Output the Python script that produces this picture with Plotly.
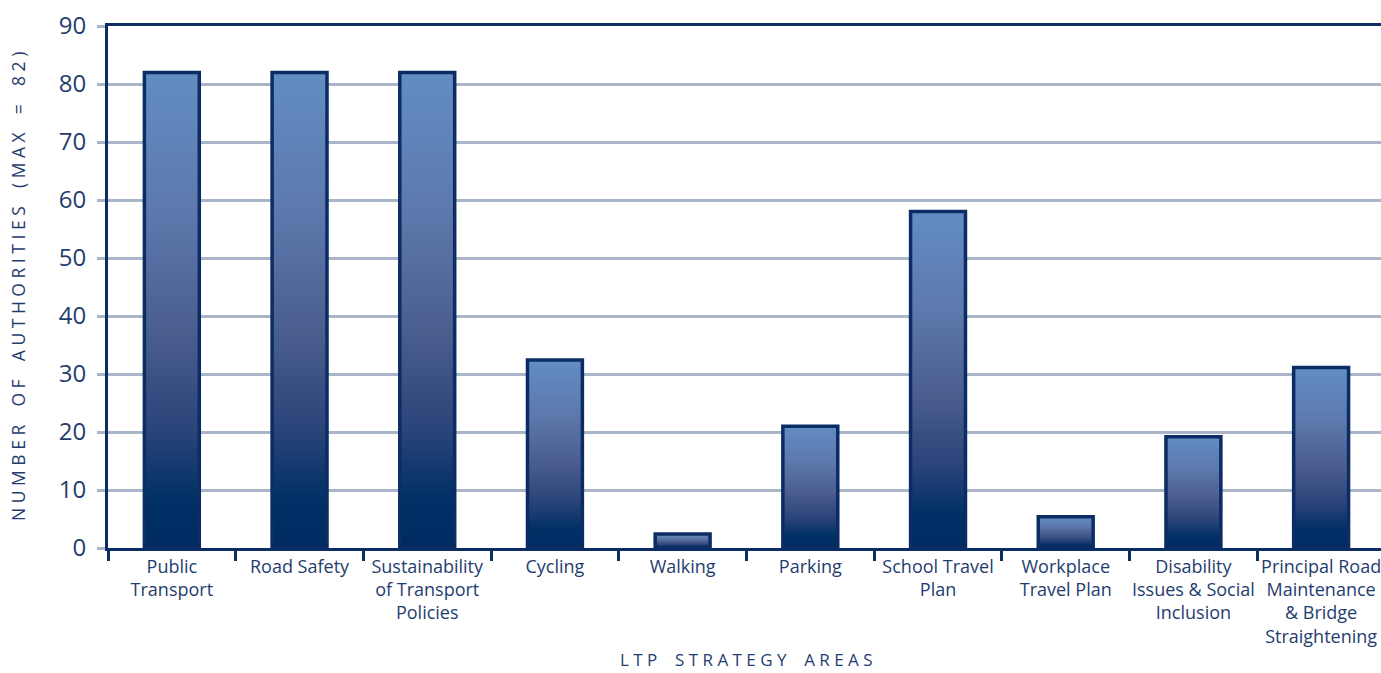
import plotly.graph_objects as go

categories = ["Public<br>Transport", "Road Safety", "Sustainability<br>of Transport<br>Policies",
              "Cycling", "Walking", "Parking", "School Travel<br>Plan", "Workplace<br>Travel Plan",
              "Disability<br>Issues & Social<br>Inclusion",
              "Principal Road<br>Maintenance<br>& Bridge<br>Straightening"]
values = [82, 82, 82, 32.4, 2.4, 21, 58, 5.4, 19.2, 31.1]
y_ticks = [0, 10, 20, 30, 40, 50, 60, 70, 80, 90]

NAVY = "#0b2d63"
TEXT = "#1f3d6e"
GRID = "#a9b6c9"
HALF = 0.215

grad = [[0.0, "#002b62"], [0.1, "#003066"], [0.25, "#2b4479"], [0.45, "#4a5d8f"],
        [0.7, "#5d78ac"], [1.0, "#628dc4"]]

def spaced(s, sep, wsep):
    words = s.split(" ")
    return wsep.join(sep.join(list(w)) for w in words)

fig = go.Figure()
for i, v in enumerate(values):
    fig.add_trace(go.Scatter(
        x=[i - HALF, i + HALF, i + HALF, i - HALF, i - HALF],
        y=[0, 0, v, v, 0],
        mode="lines", fill="toself",
        fillgradient=dict(type="vertical", colorscale=grad, start=0, stop=v),
        line=dict(color=NAVY, width=3.5),
        hoverinfo="skip", showlegend=False,
    ))

fig.update_layout(
    width=1381, height=673,
    margin=dict(l=108, r=0, t=26, b=125),
    paper_bgcolor="white", plot_bgcolor="white",
    font=dict(family="Open Sans", color=TEXT),
    xaxis=dict(
        range=[-0.5, 9.469],
        tickvals=list(range(len(categories))), ticktext=categories,
        ticks="", showgrid=False, zeroline=False,
        showline=True, linecolor=NAVY, linewidth=3, mirror=True,
        tickfont=dict(size=18, color=TEXT),
        ticklabelstandoff=0, ticklabeloverflow="allow",
        minor=dict(tick0=-0.5, dtick=1, ticks="outside", ticklen=10,
                   tickwidth=3, tickcolor=NAVY, showgrid=False),
    ),
    yaxis=dict(
        range=[0, 90], tickvals=y_ticks,
        showgrid=True, gridcolor=GRID, gridwidth=3,
        zeroline=False, showline=True, linecolor=NAVY, linewidth=3,
        ticks="outside", ticklen=8, tickwidth=3, tickcolor=GRID,
        tickfont=dict(size=24, color=TEXT),
        ticklabelstandoff=6,
    ),
    annotations=[
        dict(text=spaced("NUMBER OF AUTHORITIES (MAX = 82)", "\u00a0", "\u00a0" * 4), textangle=-90,
             xref="paper", yref="paper", x=-90 / 1273, y=0.5,
             xanchor="center", yanchor="middle", showarrow=False,
             font=dict(size=17.5, color=TEXT)),
        dict(text=spaced("LTP STRATEGY AREAS", "\u00a0", "\u00a0" * 4),
             xref="x", yref="paper", x=4.5, y=-111 / 522,
             xanchor="center", yanchor="middle", showarrow=False,
             font=dict(size=17, color=TEXT)),
    ],
)

fig.write_html("out.html")
